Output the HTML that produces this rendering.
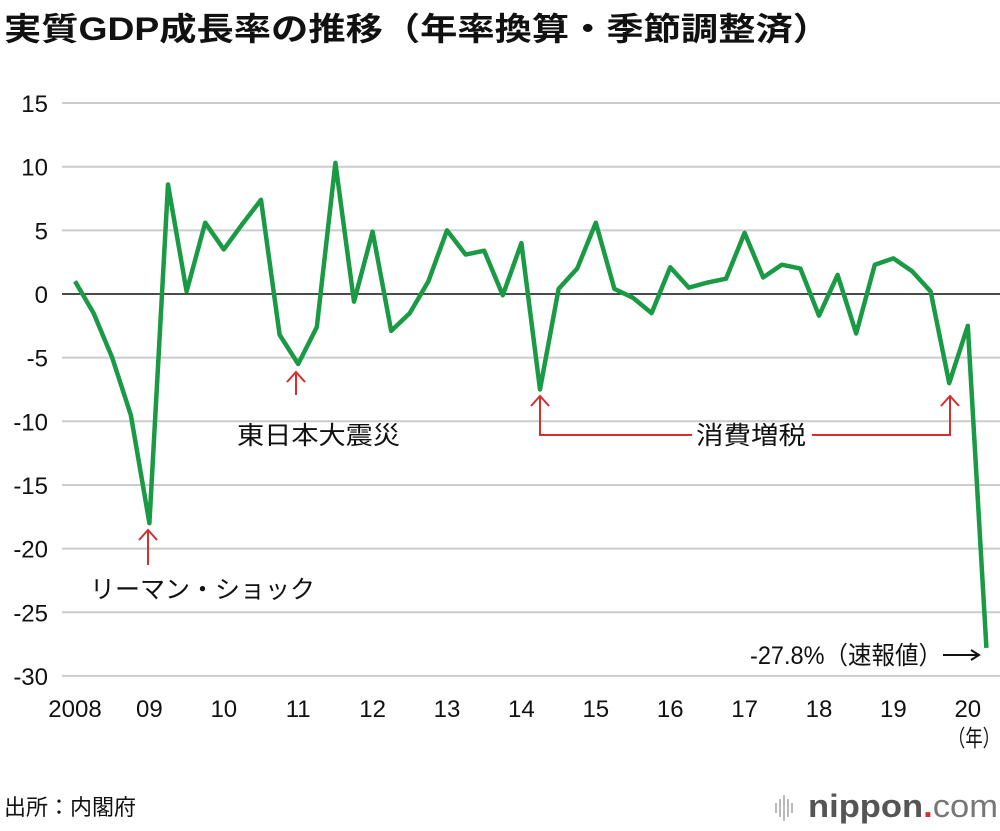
<!DOCTYPE html>
<html><head><meta charset="utf-8"><style>
body{margin:0;background:#fff;width:1000px;height:826px;overflow:hidden;font-family:"Liberation Sans","Noto Sans CJK JP",sans-serif;}
svg text{font-family:"Liberation Sans","Noto Sans CJK JP",sans-serif;}
</style></head><body>
<svg id="chart" width="1000" height="826">
<text x="4" y="40" font-size="32" font-weight="bold" fill="#111" textLength="826" lengthAdjust="spacingAndGlyphs">実質GDP成長率の推移（年率換算・季節調整済）</text>
<g id="grid"></g><g id="yt"></g><g id="xt"></g>
<polyline id="line" fill="none" stroke="#1a9a44" stroke-width="4.5" stroke-linejoin="round"/>
<g id="ann" font-size="25" fill="#111">
<path d="M148 565V530M139 540L148 530L157 540" stroke="#d32f2f" stroke-width="2" fill="none"/>
<text x="90" y="598" textLength="225" lengthAdjust="spacingAndGlyphs">リーマン・ショック</text>
<path d="M296 395V372M287 382L296 372L305 382" stroke="#d32f2f" stroke-width="2" fill="none"/>
<text x="237" y="444" textLength="163" lengthAdjust="spacingAndGlyphs">東日本大震災</text>
<path d="M540 396V435H692M812 435H950V396M531 406L540 396L549 406M941 406L950 396L959 406" stroke="#d32f2f" stroke-width="2" fill="none"/>
<text x="696" y="444" textLength="110" lengthAdjust="spacingAndGlyphs">消費増税</text>
<text x="750" y="664" textLength="192" lengthAdjust="spacingAndGlyphs">-27.8%（速報値）</text>
<path d="M943 655H978M971 650L979 655L971 660" stroke="#111" stroke-width="2" fill="none"/>
</g>
<text x="948" y="746" font-size="23" fill="#111" textLength="52" lengthAdjust="spacingAndGlyphs">（年）</text>
<text x="4" y="815" font-size="22" fill="#111">出所：内閣府</text>
<g>
<path d="M776 803v10M780 799v18M784 795v26M788 799v18M792 803v10" stroke="#bbb" stroke-width="2"/>
<text x="808" y="817" font-size="32" font-weight="bold" fill="#555" textLength="190" lengthAdjust="spacingAndGlyphs">nippon<tspan fill="#d32f2f">.</tspan><tspan font-weight="normal" fill="#777">com</tspan></text>
</g>
</svg>
<script>
const yTicks=[15,10,5,0,-5,-10,-15,-20,-25,-30];
const xLabels=["2008","09","10","11","12","13","14","15","16","17","18","19","20"];
const values=[1.0,-1.5,-5,-9.5,-18,8.6,0.2,5.6,3.5,5.5,7.4,-3.2,-5.5,-2.6,10.3,-0.6,4.9,-2.9,-1.5,1.0,5.0,3.1,3.4,-0.1,4.0,-7.5,0.4,2.0,5.6,0.4,-0.3,-1.5,2.1,0.5,0.9,1.2,4.8,1.3,2.3,2.0,-1.7,1.5,-3.1,2.3,2.8,1.8,0.2,-7.0,-2.5,-27.8];
const ns="http://www.w3.org/2000/svg";
function y(v){return 294-v*12.73;}
function x(i){return 75+i*18.6;}
const grid=document.getElementById('grid'),yt=document.getElementById('yt'),xt=document.getElementById('xt');
yTicks.forEach(t=>{
 const l=document.createElementNS(ns,'line');
 l.setAttribute('x1',62);l.setAttribute('x2',1000);l.setAttribute('y1',y(t));l.setAttribute('y2',y(t));
 l.setAttribute('stroke',t===0?'#111':'#ccc');l.setAttribute('stroke-width',t===0?1.5:2);
 
 
 grid.appendChild(l);
 const tx=document.createElementNS(ns,'text');
 tx.setAttribute('x',48);tx.setAttribute('y',y(t)+9);tx.setAttribute('text-anchor','end');tx.setAttribute('font-size',24);tx.setAttribute('fill','#111');
 tx.textContent=t;
 
 
 yt.appendChild(tx);
});
xLabels.forEach((s,i)=>{
 const tx=document.createElementNS(ns,'text');
 tx.setAttribute('x',x(i*4));tx.setAttribute('y',717);tx.setAttribute('text-anchor','middle');tx.setAttribute('font-size',24);tx.setAttribute('fill','#111');
 tx.textContent=s;
 
 
 xt.appendChild(tx);
});
document.getElementById('line').setAttribute('points',values.map((v,i)=>x(i)+','+y(v)).join(' '));
</script>
</body></html>
